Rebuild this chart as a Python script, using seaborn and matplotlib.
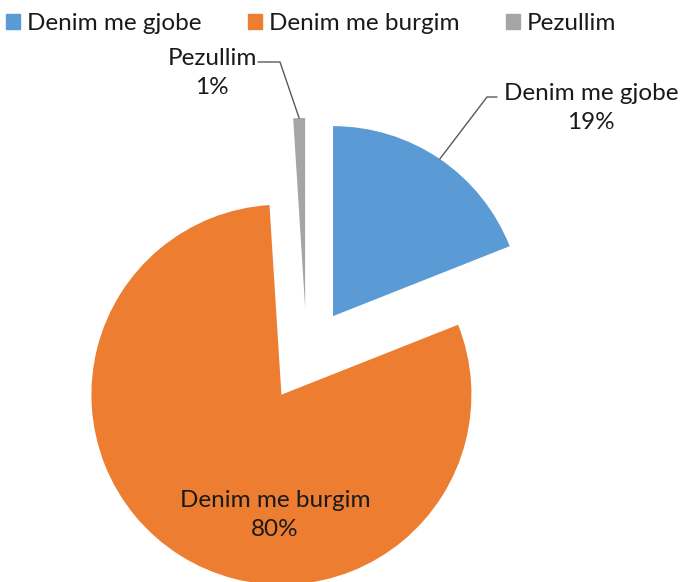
import matplotlib
matplotlib.use("Agg")
import matplotlib.pyplot as plt
import seaborn as sns
import numpy as np

categories = ["Denim me gjobe", "Denim me burgim", "Pezullim"]
values = [19, 80, 1]
pct_labels = ["19%", "80%", "1%"]
colors = ["#5B9BD5", "#ED7D31", "#A5A5A5"]

sns.set_theme(style="white")
plt.rcParams['font.family'] = ['Lato', 'DejaVu Sans']

W, H = 682, 582
fig = plt.figure(figsize=(W / 100, H / 100), dpi=100)
ax = fig.add_axes([0, 0, 1, 1])

R = 190
EXPL = 47
center = (306.6, H - 355.0)
wedges, _ = ax.pie(values, colors=colors, startangle=90, counterclock=False,
                   radius=R, center=center, explode=[EXPL] * len(values),
                   wedgeprops=dict(linewidth=0), frame=True)
ax.set_xlim(0, W)
ax.set_ylim(0, H)
ax.set_aspect('equal')
ax.axis('off')

FS = 17.5
LS = 1.45
txtcol = "#1a1a1a"

def mid_point(w, r):
    th = np.deg2rad((w.theta1 + w.theta2) / 2)
    cx, cy = w.center
    return cx + r * np.cos(th), cy + r * np.sin(th)

# Blue label with leader
ax_b = mid_point(wedges[0], R)
ax.plot([ax_b[0], 487, 497], [ax_b[1], H - 97, H - 97], color="#595959", lw=1)
ax.text(591, H - 108, f"{categories[0]}\n{pct_labels[0]}", ha="center", va="center",
        fontsize=FS, color=txtcol, linespacing=LS)

# Gray label with leader
ax_g = mid_point(wedges[2], R)
ax.plot([ax_g[0], 280, 258], [ax_g[1], H - 62, H - 62], color="#595959", lw=1)
ax.text(212, H - 73, f"{categories[2]}\n{pct_labels[2]}", ha="center", va="center",
        fontsize=FS, color=txtcol, linespacing=LS)

# Orange label inside
ax.text(275, H - 515, f"{categories[1]}\n{pct_labels[1]}", ha="center", va="center",
        fontsize=FS, color=txtcol, linespacing=LS)

handles = [plt.Rectangle((0, 0), 1, 1, color=c) for c in colors]
fig.legend(handles, categories, loc="center", bbox_to_anchor=(311 / W, 1 - 24 / H),
           ncol=3, frameon=False, fontsize=FS, handlelength=0.58, handleheight=0.58,
           handletextpad=0.29, columnspacing=1.9, labelcolor=txtcol)

fig.savefig("out.png", dpi=100)
